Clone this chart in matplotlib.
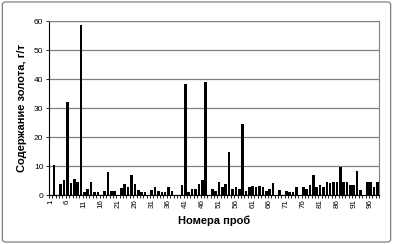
import numpy as np
import matplotlib
matplotlib.use("Agg")
import matplotlib.pyplot as plt
from matplotlib.patches import FancyBboxPatch

plt.rcParams['font.family'] = ['Liberation Sans', 'DejaVu Sans']

# sample numbers and gold content, g/t
samples = list(range(1, 99))
gold = [0, 10.2, 0, 3.9, 5.3, 32.2, 4.1, 5.4, 4.4, 58.5,
        1.2, 1.9, 4.5, 1.0, 1.0, 0, 1.3, 7.9, 1.5, 1.3,
        0, 2.5, 3.9, 2.6, 6.8, 3.9, 1.6, 1.2, 0.9, 0,
        1.7, 2.6, 1.3, 0.9, 1.2, 2.9, 1.4, 0, 0, 3.4,
        38.2, 1.1, 2.2, 2.2, 3.7, 5.2, 39.0, 0, 2.2, 1.4,
        4.4, 2.9, 3.7, 14.9, 2.2, 2.6, 2.2, 24.5, 1.4, 2.9,
        3.1, 2.9, 3.1, 2.9, 1.4, 2.1, 4.0, 0, 1.7, 0,
        1.5, 1.1, 1.1, 2.6, 0, 2.6, 2.2, 3.4, 6.9, 2.6,
        3.4, 2.6, 4.4, 4.0, 4.4, 4.4, 9.5, 4.4, 4.4, 3.4,
        3.4, 8.4, 1.7, 0, 4.4, 4.6, 2.9, 4.4]
tick_labels = [str(s) for s in samples if (s - 1) % 5 == 0]

fig = plt.figure(figsize=(3.93, 2.44), dpi=100)
ax = fig.add_axes([0.1247, 0.2008, 0.8397, 0.7131])

x = np.arange(len(samples))
ax.bar(x, gold, width=0.78, color='black', zorder=3)

ax.set_xlim(-0.5, len(samples) - 0.5)
ax.set_ylim(0, 60)
ax.set_yticks(range(0, 61, 10))
ax.yaxis.grid(True, color='#808080', linewidth=0.9, zorder=0)

ax.set_xticks([i for i, s in enumerate(samples) if (s - 1) % 5 == 0])
ax.set_xticklabels(tick_labels, rotation=90, fontsize=5.8)
ax.set_xticks(np.arange(-0.5, len(samples), 1), minor=True)
ax.tick_params(axis='x', which='major', length=0, pad=3)
ax.tick_params(axis='x', which='minor', length=2.5, width=0.6, direction='out')
ax.tick_params(axis='y', labelsize=6, length=2.5, width=0.6, pad=1.5)

for side in ['top', 'right']:
    ax.spines[side].set_color('#808080')
ax.spines['left'].set_color('black')
ax.spines['bottom'].set_color('black')
for sp in ax.spines.values():
    sp.set_linewidth(0.8)

ax.set_ylabel('Содержание золота, г/т', fontsize=8, fontweight='bold', labelpad=5)
ax.set_xlabel('Номера проб', fontsize=8, fontweight='bold', labelpad=5)

frame = FancyBboxPatch((0.006, 0.008), 0.988, 0.984,
                       boxstyle='round,pad=0,rounding_size=0.01',
                       transform=fig.transFigure, fill=False,
                       edgecolor='#808080', linewidth=0.9)
fig.patches.append(frame)

fig.savefig('out.png', dpi=100)
